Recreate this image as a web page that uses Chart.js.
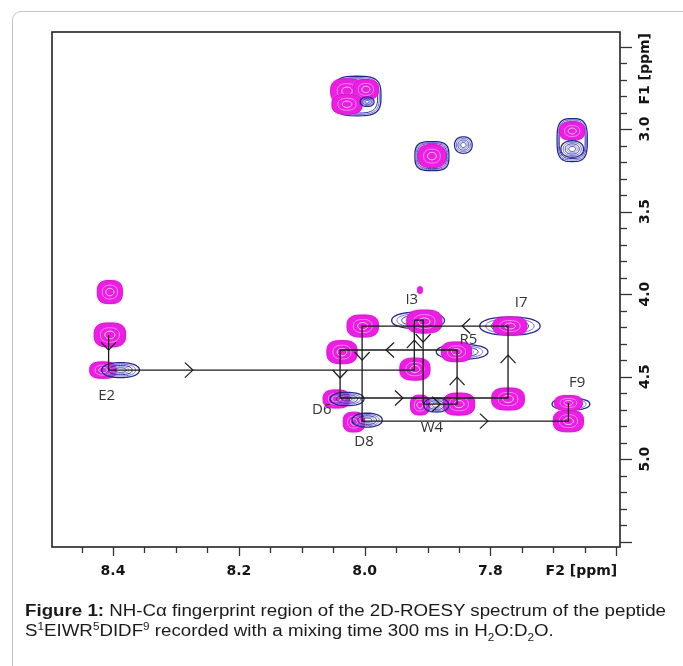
<!DOCTYPE html>
<html>
<head>
<meta charset="utf-8">
<script src="https://cdn.jsdelivr.net/npm/chart.js@4.4.1/dist/chart.umd.min.js"></script>
<style>
  html, body { margin: 0; padding: 0; background: #fff; width: 683px; height: 666px; overflow: hidden; }
  #box { position: absolute; left: 12px; top: 11px; width: 700px; height: 700px; border: 1px solid #c4c4c4; border-radius: 9px; }
  #chart { position: absolute; left: 0; top: 0; }
  #caption { position: absolute; left: 25px; top: 601px; font-family: "Liberation Sans", Arial, sans-serif; font-size: 16px; line-height: 20px; color: #1a1a1a; white-space: nowrap; transform: scaleX(1.17); transform-origin: 0 0; }
  #caption sup, #caption sub { font-size: 10px; vertical-align: 0; position: relative; }
  #caption sup { top: -6px; }
  #caption sub { top: 5px; }
</style>
</head>
<body>
<div id="box"></div>
<canvas id="chart" width="683" height="666"></canvas>
<div id="caption"><b>Figure 1:</b> NH-Cα fingerprint region of the 2D-ROESY spectrum of the peptide<br>S<sup>1</sup>EIWR<sup>5</sup>DIDF<sup>9</sup> recorded with a mixing time 300 ms in H<sub>2</sub>O:D<sub>2</sub>O.</div>
<script>
// Axis ranges (ppm)
const f2Range = [7.594, 8.497]
const f1Range = [2.412, 5.533]
const f2TickValues = [8.4, 8.2, 8.0, 7.8]
const f2TickLabels = ["8.4", "8.2", "8.0", "7.8"]
const f1TickValues = [3.0, 3.5, 4.0, 4.5, 5.0]
const f1TickLabels = ["3.0", "3.5", "4.0", "4.5", "5.0"]

// Magenta (positive) cross peaks: F2, F1 and half widths in ppm
const roeF2 = [8.028, 7.998, 8.028, 7.893, 7.670, 8.405, 8.405, 8.416, 8.003, 8.036, 7.905, 7.912, 7.854, 7.769, 7.920, 8.045, 8.017, 7.912, 7.850, 7.772, 7.676, 7.676]
const roeF1 = [2.770, 2.760, 2.850, 3.164, 3.012, 3.988, 4.248, 4.461, 4.194, 4.352, 4.167, 3.976, 4.350, 4.194, 4.455, 4.636, 4.776, 4.673, 4.667, 4.636, 4.660, 4.770]
const roeWidthF2 = [0.026, 0.020, 0.024, 0.022, 0.020, 0.020, 0.025, 0.021, 0.025, 0.024, 0.028, 0.004, 0.024, 0.027, 0.024, 0.021, 0.017, 0.015, 0.025, 0.026, 0.022, 0.024]
const roeWidthF1 = [0.075, 0.060, 0.060, 0.070, 0.055, 0.070, 0.073, 0.050, 0.067, 0.070, 0.070, 0.020, 0.060, 0.055, 0.067, 0.055, 0.060, 0.060, 0.067, 0.067, 0.045, 0.065]

// Blue (negative) peaks lying over the magenta ones
const negF2 = [7.996, 7.843, 7.670, 8.388, 8.028, 7.996, 7.886]
const negF1 = [2.835, 3.097, 3.121, 4.461, 4.636, 4.764, 4.673]
const negWidthF2 = [0.011, 0.014, 0.018, 0.030, 0.027, 0.024, 0.020]
const negWidthF1 = [0.028, 0.050, 0.050, 0.045, 0.040, 0.042, 0.042]

// Blue peaks partly hidden under the magenta ones
const negBackF2 = [7.915, 7.845, 7.769, 7.672]
const negBackF1 = [4.160, 4.350, 4.194, 4.667]
const negBackWidthF2 = [0.042, 0.041, 0.048, 0.030]
const negBackWidthF1 = [0.050, 0.045, 0.055, 0.036]

// Blue outer contours around the side-chain peaks
const envF2 = [8.012, 7.893, 7.670]
const envF1 = [2.800, 3.164, 3.067]
const envWidthF2 = [0.038, 0.027, 0.024]
const envWidthF1 = [0.120, 0.088, 0.130]

// Sequential NH-Ca walk
const walkF2 = [8.407, 8.407, 7.921, 7.921, 7.907, 7.907, 7.853, 7.853, 8.039, 8.039, 7.772, 7.772, 8.004, 8.004, 7.676, 7.676]
const walkF1 = [4.248, 4.461, 4.461, 4.158, 4.158, 4.667, 4.667, 4.339, 4.339, 4.630, 4.630, 4.194, 4.194, 4.770, 4.770, 4.661]

const arrowF2 = [8.407, 8.273, 7.921, 7.907, 7.880, 7.853, 7.966, 8.039, 7.939, 7.772, 7.845, 8.004, 7.804]
const arrowF1 = [4.340, 4.461, 4.279, 4.291, 4.667, 4.503, 4.339, 4.509, 4.630, 4.370, 4.194, 4.400, 4.770]
const arrowDir = ["down", "right", "up", "down", "right", "up", "left", "down", "right", "up", "left", "down", "right"]

// Residue labels
const residues = ["E2", "I3", "W4", "R5", "D6", "I7", "D8", "F9"]
const residueF2 = [8.410, 7.925, 7.893, 7.835, 8.068, 7.751, 8.001, 7.662]
const residueF1 = [4.618, 4.036, 4.812, 4.279, 4.703, 4.055, 4.897, 4.539]

// superellipse outline, close to the squarish contour blobs
function blob(ctx, cx, cy, rx, ry, n) {
  rx = Math.max(rx, 0.6)
  ry = Math.max(ry, 0.6)
  const e = 2 / n
  ctx.beginPath()
  for (let k = 0; k <= 48; k++) {
    const t = (k / 48) * Math.PI * 2
    const c = Math.cos(t)
    const s = Math.sin(t)
    const px = cx + rx * Math.sign(c) * Math.pow(Math.abs(c), e)
    const py = cy + ry * Math.sign(s) * Math.pow(Math.abs(s), e)
    if (k === 0) ctx.moveTo(px, py)
    else ctx.lineTo(px, py)
  }
  ctx.closePath()
}

function peakBox(x, y, f2, f1, w2, w1) {
  const cx = x.getPixelForValue(f2)
  const cy = y.getPixelForValue(f1)
  const rx = Math.abs(x.getPixelForValue(f2 + w2) - cx)
  const ry = Math.abs(y.getPixelForValue(f1 + w1) - cy)
  return { cx, cy, rx, ry }
}

function drawRoePeak(ctx, p) {
  ctx.fillStyle = "rgba(240, 130, 235, 0.22)"
  blob(ctx, p.cx, p.cy, p.rx + 1.5, p.ry + 1.5, 2.8)
  ctx.fill()
  ctx.fillStyle = "#ea1fe2"
  blob(ctx, p.cx, p.cy, p.rx, p.ry, 2.8)
  ctx.fill()
  ctx.lineWidth = 1
  ctx.strokeStyle = "#d016cc"
  ctx.stroke()
  if (p.rx < 4) return
  ctx.strokeStyle = "rgba(255, 160, 250, 0.8)"
  blob(ctx, p.cx, p.cy, p.rx * 0.6, p.ry * 0.6, 2.4)
  ctx.stroke()
  ctx.strokeStyle = "rgba(255, 225, 252, 0.9)"
  blob(ctx, p.cx, p.cy, p.rx * 0.32, p.ry * 0.32, 2)
  ctx.stroke()
}

function drawNegPeak(ctx, p, rings, colors, n) {
  rings.forEach((s, i) => {
    ctx.strokeStyle = colors[i % colors.length]
    ctx.lineWidth = i === 0 ? 1.3 : 1
    blob(ctx, p.cx, p.cy, p.rx * s, p.ry * s, n)
    ctx.stroke()
  })
}

const negRings = [1, 0.8, 0.62, 0.45, 0.3]
const negColors = ["#26268e", "#6c6cd2", "#30309f", "#8a8adf", "#3a3aa8"]

function drawChevron(ctx, px, py, dir) {
  const ang = { right: 0, down: Math.PI / 2, left: Math.PI, up: -Math.PI / 2 }[dir]
  const len = 11
  const spread = 0.75
  ctx.beginPath()
  ctx.moveTo(px - len * Math.cos(ang - spread), py - len * Math.sin(ang - spread))
  ctx.lineTo(px, py)
  ctx.lineTo(px - len * Math.cos(ang + spread), py - len * Math.sin(ang + spread))
  ctx.stroke()
}

const spectrumPlugin = {
  id: "spectrum",
  beforeDatasetsDraw(chart) {
    const { ctx, chartArea, scales: { x, y } } = chart
    ctx.save()
    ctx.beginPath()
    ctx.rect(chartArea.left, chartArea.top, chartArea.width, chartArea.height)
    ctx.clip()
    envF2.forEach((f2, i) => {
      drawNegPeak(ctx, peakBox(x, y, f2, envF1[i], envWidthF2[i], envWidthF1[i]), [1, 0.93, 0.86], ["#23238c", "#6a6ad0", "#3434a4"], 3.2)
    })
    negBackF2.forEach((f2, i) => {
      drawNegPeak(ctx, peakBox(x, y, f2, negBackF1[i], negBackWidthF2[i], negBackWidthF1[i]), negRings, negColors, 2.2)
    })
    roeF2.forEach((f2, i) => {
      drawRoePeak(ctx, peakBox(x, y, f2, roeF1[i], roeWidthF2[i], roeWidthF1[i]))
    })
    negF2.forEach((f2, i) => {
      drawNegPeak(ctx, peakBox(x, y, f2, negF1[i], negWidthF2[i], negWidthF1[i]), negRings, negColors, 2.2)
    })
    ctx.restore()
  },
  afterDatasetsDraw(chart) {
    const { ctx, scales: { x, y } } = chart
    ctx.save()
    ctx.strokeStyle = "#1a1a1a"
    ctx.lineWidth = 1.2
    arrowF2.forEach((f2, i) => {
      drawChevron(ctx, x.getPixelForValue(f2), y.getPixelForValue(arrowF1[i]), arrowDir[i])
    })
    ctx.fillStyle = "#333"
    ctx.font = "15px 'Open Sans', sans-serif"
    ctx.textAlign = "center"
    ctx.textBaseline = "middle"
    residues.forEach((r, i) => {
      ctx.fillText(r, x.getPixelForValue(residueF2[i]), y.getPixelForValue(residueF1[i]))
    })
    ctx.restore()
  },
  afterDraw(chart) {
    const { ctx, chartArea: a, scales: { x, y } } = chart
    ctx.save()
    // frame
    ctx.strokeStyle = "#222"
    ctx.lineWidth = 1.6
    ctx.strokeRect(a.left, a.top, a.right - a.left, a.bottom - a.top)
    // ticks
    ctx.lineWidth = 1.3
    ctx.strokeStyle = "#333"
    for (let i = 0; i <= 18; i++) {
      const v = 7.6 + i * 0.05
      if (v < f2Range[0] || v > f2Range[1]) continue
      const px = Math.round(x.getPixelForValue(v)) + 0.5
      ctx.beginPath()
      ctx.moveTo(px, a.bottom)
      ctx.lineTo(px, a.bottom + (i % 4 === 0 ? 9 : 6))
      ctx.stroke()
    }
    for (let i = 0; i <= 30; i++) {
      const v = 2.5 + i * 0.1
      if (v < f1Range[0] || v > f1Range[1]) continue
      const py = Math.round(y.getPixelForValue(v)) + 0.5
      ctx.beginPath()
      ctx.moveTo(a.right, py)
      ctx.lineTo(a.right + (i % 5 === 0 ? 12 : 7), py)
      ctx.stroke()
    }
    // labels
    ctx.fillStyle = "#151515"
    ctx.font = "bold 14px 'DejaVu Sans', sans-serif"
    ctx.textBaseline = "middle"
    ctx.textAlign = "center"
    f2TickValues.forEach((v, i) => {
      ctx.fillText(f2TickLabels[i], x.getPixelForValue(v), 571)
    })
    ctx.textAlign = "right"
    ctx.fillText("F2 [ppm]", x.getPixelForValue(7.6) + 1, 571)
    f1TickValues.forEach((v, i) => {
      ctx.save()
      ctx.translate(645, y.getPixelForValue(v))
      ctx.rotate(-Math.PI / 2)
      ctx.textAlign = "center"
      ctx.fillText(f1TickLabels[i], 0, 0)
      ctx.restore()
    })
    ctx.translate(645, a.top + 1)
    ctx.rotate(-Math.PI / 2)
    ctx.textAlign = "right"
    ctx.fillText("F1 [ppm]", 0, 0)
    ctx.restore()
  },
}

window.addEventListener("load", () => {
  const ctx = document.getElementById("chart").getContext("2d")
  new Chart(ctx, {
    type: "scatter",
    data: {
      datasets: [
        {
          label: "walk",
          data: walkF2.map((f2, i) => ({ x: f2, y: walkF1[i] })),
          showLine: true,
          borderColor: "#1a1a1a",
          borderWidth: 1.3,
          pointRadius: 0,
          fill: false,
        },
      ],
    },
    options: {
      responsive: false,
      animation: false,
      devicePixelRatio: 1,
      layout: { padding: { left: 52, top: 32, right: 63, bottom: 119 } },
      scales: {
        x: { type: "linear", display: false, reverse: true, min: f2Range[0], max: f2Range[1] },
        y: { type: "linear", display: false, reverse: true, min: f1Range[0], max: f1Range[1] },
      },
      plugins: { legend: { display: false }, tooltip: { enabled: false } },
    },
    plugins: [spectrumPlugin],
  })
})
</script>
</body>
</html>
